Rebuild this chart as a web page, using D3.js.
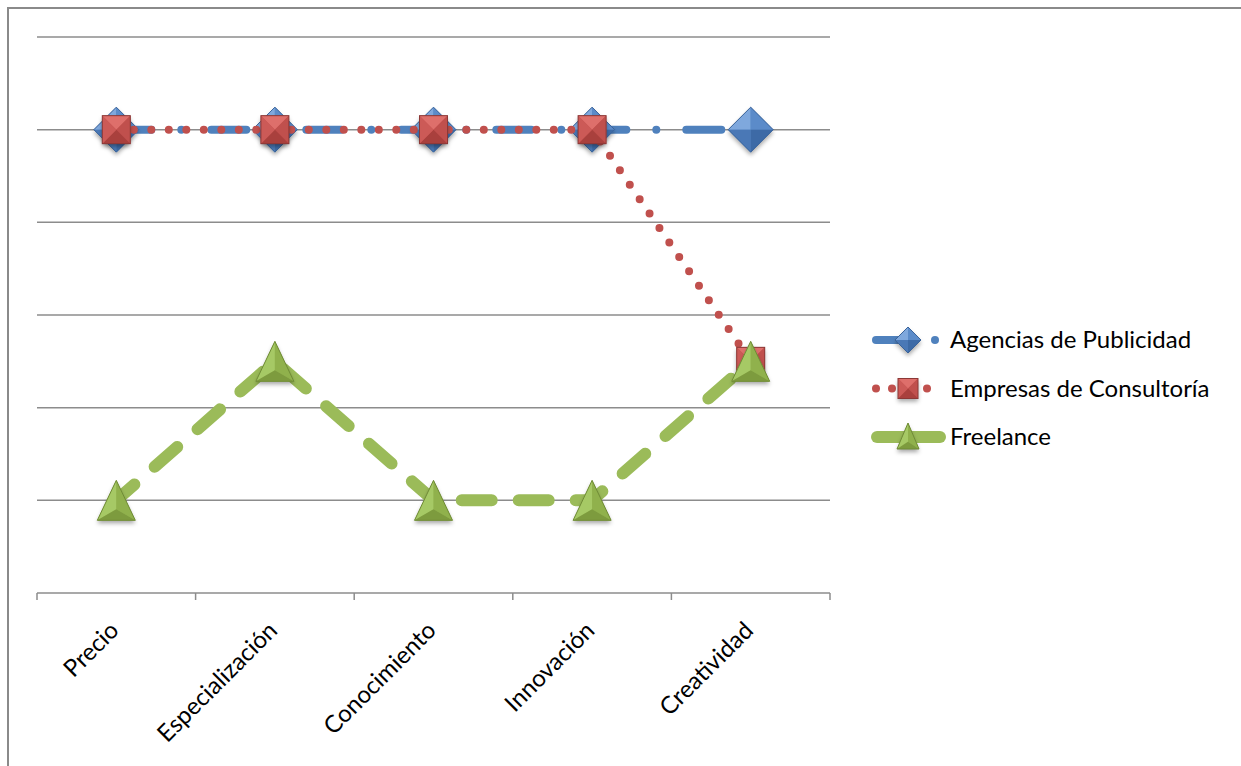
<!DOCTYPE html>
<html>
<head>
<meta charset="utf-8">
<script src="https://cdn.jsdelivr.net/npm/d3@7"></script>
<style>
  body { margin: 0; background: #fff; }
  svg { display: block; }
  text { font-family: Lato, "Open Sans", sans-serif; fill: #000; }
</style>
</head>
<body>
<div id="chart"></div>
<script>
// data
var categories = ["Precio", "Especialización", "Conocimiento", "Innovación", "Creatividad"];
var agencias = [5, 5, 5, 5, 5];
var empresas = [5, 5, 5, 5, 2.5];
var freelance = [1, 2.5, 1, 1, 2.5];
var yTicks = [0, 1, 2, 3, 4, 5, 6];
var seriesNames = ["Agencias de Publicidad", "Empresas de Consultoría", "Freelance"];

var width = 1241, height = 766;
var plot = { left: 37, right: 830, top: 37, bottom: 593 };

var svg = d3.select("#chart").append("svg")
    .attr("width", width)
    .attr("height", height);

var defs = svg.append("defs");
var shadow = defs.append("filter").attr("id", "shadow")
    .attr("x", "-50%").attr("y", "-50%").attr("width", "200%").attr("height", "200%");
shadow.append("feDropShadow")
    .attr("dx", 0).attr("dy", 3).attr("stdDeviation", 2)
    .attr("flood-color", "#000").attr("flood-opacity", 0.35);

// outer frame (runs off the right and bottom)
svg.append("rect")
    .attr("x", 8).attr("y", 8)
    .attr("width", width + 20).attr("height", height + 20)
    .attr("fill", "none")
    .attr("stroke", "#8a8a8a")
    .attr("stroke-width", 2);

var x = d3.scaleBand()
    .domain(categories)
    .range([plot.left, plot.right]);

var y = d3.scaleLinear()
    .domain([0, 6])
    .range([plot.bottom, plot.top]);

function cx(d, i) { return x(categories[i]) + x.bandwidth() / 2; }

// gridlines
svg.append("g").selectAll("line")
    .data(yTicks.filter(function (t) { return t > 0; }))
    .enter().append("line")
    .attr("x1", plot.left).attr("x2", plot.right)
    .attr("y1", function (d) { return y(d); })
    .attr("y2", function (d) { return y(d); })
    .attr("stroke", "#8c8c8c")
    .attr("stroke-width", 1.5);

// category axis
var xAxis = svg.append("g")
    .attr("transform", "translate(0," + plot.bottom + ")");
xAxis.append("line")
    .attr("x1", plot.left).attr("x2", plot.right)
    .attr("stroke", "#8c8c8c").attr("stroke-width", 1.5);
var tickPos = categories.map(function (c) { return x(c); }).concat([plot.right]);
xAxis.selectAll(".tick")
    .data(tickPos)
    .enter().append("line")
    .attr("x1", function (d) { return d; }).attr("x2", function (d) { return d; })
    .attr("y1", 0).attr("y2", 7)
    .attr("stroke", "#8c8c8c").attr("stroke-width", 1.5);
xAxis.selectAll("text")
    .data(categories)
    .enter().append("text")
    .attr("transform", function (d) {
        return "translate(" + (x(d) + x.bandwidth() / 2 - 2) + ",33) rotate(-45)";
    })
    .attr("text-anchor", "end")
    .attr("dy", "0.35em")
    .style("font-size", "24px")
    .text(function (d) { return d; });

// marker shapes, drawn around (0,0)
function diamond(g, r) {
    var c = ["#7fa8dd", "#5b8bc9", "#3d6aa6", "#4a78b6"];
    var pts = [[0, -r], [r, 0], [0, r], [-r, 0]];
    g.append("path")
        .attr("d", "M0," + (-r) + "L" + r + ",0L0," + r + "L" + (-r) + ",0Z")
        .attr("fill", "#4f81bd").attr("filter", "url(#shadow)");
    // faces: top-left, top-right, bottom-right, bottom-left
    [[3, 0], [0, 1], [1, 2], [2, 3]].forEach(function (f, k) {
        var a = pts[f[0]], b = pts[f[1]];
        g.append("path")
            .attr("d", "M" + a + "L" + b + "L0,0Z")
            .attr("fill", c[k]);
    });
    g.append("path")
        .attr("d", "M0," + (-r) + "L" + r + ",0L0," + r + "L" + (-r) + ",0Z")
        .attr("fill", "none").attr("stroke", "#3a639a").attr("stroke-width", 1);
}

function square(g, s) {
    var c = ["#de6f6b", "#c0504d", "#a9403d", "#cc5a57"];
    var pts = [[-s, -s], [s, -s], [s, s], [-s, s]];
    g.append("rect")
        .attr("x", -s).attr("y", -s).attr("width", 2 * s).attr("height", 2 * s)
        .attr("fill", "#c0504d").attr("filter", "url(#shadow)");
    // faces: top, right, bottom, left
    [[0, 1], [1, 2], [2, 3], [3, 0]].forEach(function (f, k) {
        var a = pts[f[0]], b = pts[f[1]];
        g.append("path")
            .attr("d", "M" + a + "L" + b + "L0,0Z")
            .attr("fill", c[k]);
    });
    g.append("rect")
        .attr("x", -s).attr("y", -s).attr("width", 2 * s).attr("height", 2 * s)
        .attr("fill", "none").attr("stroke", "#8c3836").attr("stroke-width", 1);
}

function triangle(g, w, h) {
    var top = [0, -h / 2], bl = [-w / 2, h / 2], br = [w / 2, h / 2], mid = [0, h / 2 - h * 0.28];
    g.append("path")
        .attr("d", "M" + top + "L" + br + "L" + bl + "Z")
        .attr("fill", "#9bbb59").attr("filter", "url(#shadow)");
    g.append("path").attr("d", "M" + top + "L" + mid + "L" + bl + "Z").attr("fill", "#a6c965");
    g.append("path").attr("d", "M" + top + "L" + br + "L" + mid + "Z").attr("fill", "#90b14c");
    g.append("path").attr("d", "M" + bl + "L" + mid + "L" + br + "Z").attr("fill", "#7d9b3e");
    g.append("path")
        .attr("d", "M" + top + "L" + br + "L" + bl + "Z")
        .attr("fill", "none").attr("stroke", "#6f8b36").attr("stroke-width", 1);
}

var line = d3.line()
    .x(cx)
    .y(function (d) { return y(d); });

var series = [
    { values: agencias, color: "#4f81bd", width: 8, dash: "35,30,0,30", offset: 0,
      marker: function (g) { diamond(g, 22.5); } },
    { values: empresas, color: "#c0504d", width: 8, dash: "0,17.5", offset: 0,
      marker: function (g) { square(g, 14); } },
    { values: freelance, color: "#9bbb59", width: 12, dash: "30,27", offset: 6,
      marker: function (g) { triangle(g, 38, 40); } }
];

series.forEach(function (s) {
    var g = svg.append("g");
    g.append("path")
        .datum(s.values)
        .attr("d", line)
        .attr("fill", "none")
        .attr("stroke", s.color)
        .attr("stroke-width", s.width)
        .attr("stroke-linecap", "round")
        .attr("stroke-dasharray", s.dash)
        .attr("stroke-dashoffset", s.offset);
    g.selectAll(".m")
        .data(s.values)
        .enter().append("g")
        .attr("transform", function (d, i) { return "translate(" + cx(d, i) + "," + y(d) + ")"; })
        .each(function () { s.marker(d3.select(this)); });
});

// legend
var legend = svg.append("g").attr("transform", "translate(872,340)");
var rowGap = 48.5;

var l0 = legend.append("g");
l0.append("line").attr("x1", 4).attr("x2", 34).attr("y1", 0).attr("y2", 0)
    .attr("stroke", "#4f81bd").attr("stroke-width", 8).attr("stroke-linecap", "round");
l0.append("circle").attr("cx", 63).attr("cy", 0).attr("r", 4).attr("fill", "#4f81bd");
diamond(l0.append("g").attr("transform", "translate(36,0)"), 13);

var l1 = legend.append("g").attr("transform", "translate(0," + rowGap + ")");
[4, 20, 55].forEach(function (px) {
    l1.append("circle").attr("cx", px).attr("cy", 0).attr("r", 4).attr("fill", "#c0504d");
});
square(l1.append("g").attr("transform", "translate(36,0)"), 10);

var l2 = legend.append("g").attr("transform", "translate(0," + 2 * rowGap + ")");
l2.append("line").attr("x1", 5).attr("x2", 68).attr("y1", 0).attr("y2", 0)
    .attr("stroke", "#9bbb59").attr("stroke-width", 12).attr("stroke-linecap", "round");
triangle(l2.append("g").attr("transform", "translate(36,-1)"), 22, 26);

legend.selectAll("text.lbl")
    .data(seriesNames)
    .enter().append("text")
    .attr("class", "lbl")
    .attr("x", 78)
    .attr("y", function (d, i) { return i * rowGap; })
    .attr("dy", "0.35em")
    .style("font-size", "24px")
    .text(function (d) { return d; });
</script>
</body>
</html>
